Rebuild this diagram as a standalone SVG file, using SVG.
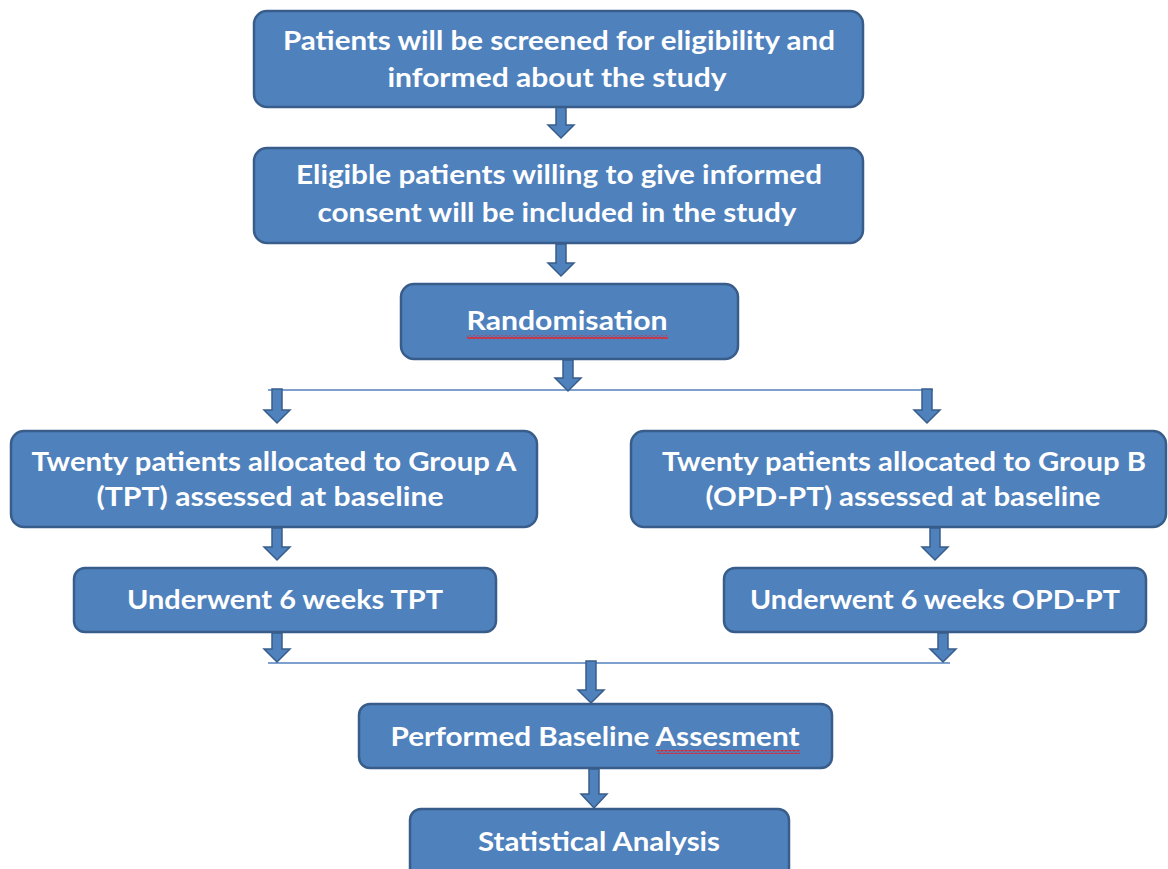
<svg xmlns="http://www.w3.org/2000/svg" width="1168" height="869" viewBox="0 0 1168 869">
<style>
.box{fill:#4F81BD;stroke:#385D8A;stroke-width:2.5}
.t{font-family:Lato,"Open Sans","Liberation Sans",sans-serif;font-weight:bold;font-size:27px;fill:#FFFFFF;text-anchor:middle}
.arr{fill:#4F81BD;stroke:#385D8A;stroke-width:1.5;stroke-linejoin:miter}
.line{fill:none;stroke:#7DA0CF;stroke-width:2.2}
</style>
<defs>
<pattern id="sq" x="0" y="0" width="4" height="4" patternUnits="userSpaceOnUse">
<path d="M0 1 L2 3 L4 1" fill="none" stroke="#E8232A" stroke-width="1.4"/>
</pattern>
</defs>
<rect width="1168" height="869" fill="#FFFFFF"/>
<g id="connectors">
<line class="line" x1="268" y1="390" x2="933" y2="390"/>
<line class="line" x1="268" y1="663" x2="950" y2="663"/>
<path class="arr" d="M556 107 h10 v18 h8 l-13 13 l-13 -13 h8 z"/>
<path class="arr" d="M556 244 h10 v19 h8 l-13 13 l-13 -13 h8 z"/>
<path class="arr" d="M563 360 h10 v18 h8 l-13 13 l-13 -13 h8 z"/>
<path class="arr" d="M272 389 h10 v21 h8 l-13 13 l-13 -13 h8 z"/>
<path class="arr" d="M922 389 h10 v21 h8 l-13 13 l-13 -13 h8 z"/>
<path class="arr" d="M272 528 h10 v19 h8 l-13 13 l-13 -13 h8 z"/>
<path class="arr" d="M930 528 h10 v19 h8 l-13 13 l-13 -13 h8 z"/>
<path class="arr" d="M272 633 h10 v16 h8 l-13 13 l-13 -13 h8 z"/>
<path class="arr" d="M938 633 h10 v16 h8 l-13 13 l-13 -13 h8 z"/>
<path class="arr" d="M586 661 h10 v29 h8 l-13 13 l-13 -13 h8 z"/>
<path class="arr" d="M589 769 h10 v25 h8 l-13 14 l-13 -14 h8 z"/>
</g>
<g id="n1">
<rect class="box" x="254" y="11" width="609" height="96" rx="13"/>
<text class="t" x="559" y="50" textLength="552" lengthAdjust="spacingAndGlyphs">Patients will be screened for eligibility and</text>
<text class="t" x="557" y="87" textLength="339" lengthAdjust="spacingAndGlyphs">informed about the study</text>
</g>
<g id="n2">
<rect class="box" x="254" y="148" width="609" height="95" rx="13"/>
<text class="t" x="559" y="184" textLength="526" lengthAdjust="spacingAndGlyphs">Eligible patients willing to give informed</text>
<text class="t" x="557" y="222" textLength="479" lengthAdjust="spacingAndGlyphs">consent will be included in the study</text>
</g>
<g id="n3">
<rect class="box" x="401" y="284" width="337" height="75" rx="13"/>
<text class="t" x="567" y="330" textLength="201" lengthAdjust="spacingAndGlyphs">Randomisation</text>
<rect x="467" y="335" width="201" height="4" fill="url(#sq)"/>
</g>
<g id="n4a">
<rect class="box" x="11" y="431" width="526" height="96" rx="13"/>
<text class="t" x="274" y="471" textLength="485" lengthAdjust="spacingAndGlyphs">Twenty patients allocated to Group A</text>
<text class="t" x="270" y="506" textLength="347" lengthAdjust="spacingAndGlyphs">(TPT) assessed at baseline</text>
</g>
<g id="n4b">
<rect class="box" x="631" y="431" width="535" height="96" rx="13"/>
<text class="t" x="904" y="471" textLength="484" lengthAdjust="spacingAndGlyphs">Twenty patients allocated to Group B</text>
<text class="t" x="903" y="506" textLength="395" lengthAdjust="spacingAndGlyphs">(OPD-PT) assessed at baseline</text>
</g>
<g id="n5a">
<rect class="box" x="74" y="568" width="422" height="64" rx="11"/>
<text class="t" x="285" y="609" textLength="316" lengthAdjust="spacingAndGlyphs">Underwent 6 weeks TPT</text>
</g>
<g id="n5b">
<rect class="box" x="724" y="568" width="422" height="64" rx="11"/>
<text class="t" x="935" y="609" textLength="370" lengthAdjust="spacingAndGlyphs">Underwent 6 weeks OPD-PT</text>
</g>
<g id="n6">
<rect class="box" x="359" y="704" width="473" height="64" rx="11"/>
<text class="t" x="595" y="746" textLength="409" lengthAdjust="spacingAndGlyphs">Performed Baseline Assesment</text>
<rect x="657" y="750" width="143" height="4" fill="url(#sq)"/>
</g>
<g id="n7">
<rect class="box" x="410" y="809" width="379" height="70" rx="11"/>
<text class="t" x="599" y="851" textLength="242" lengthAdjust="spacingAndGlyphs">Statistical Analysis</text>
</g>
</svg>
